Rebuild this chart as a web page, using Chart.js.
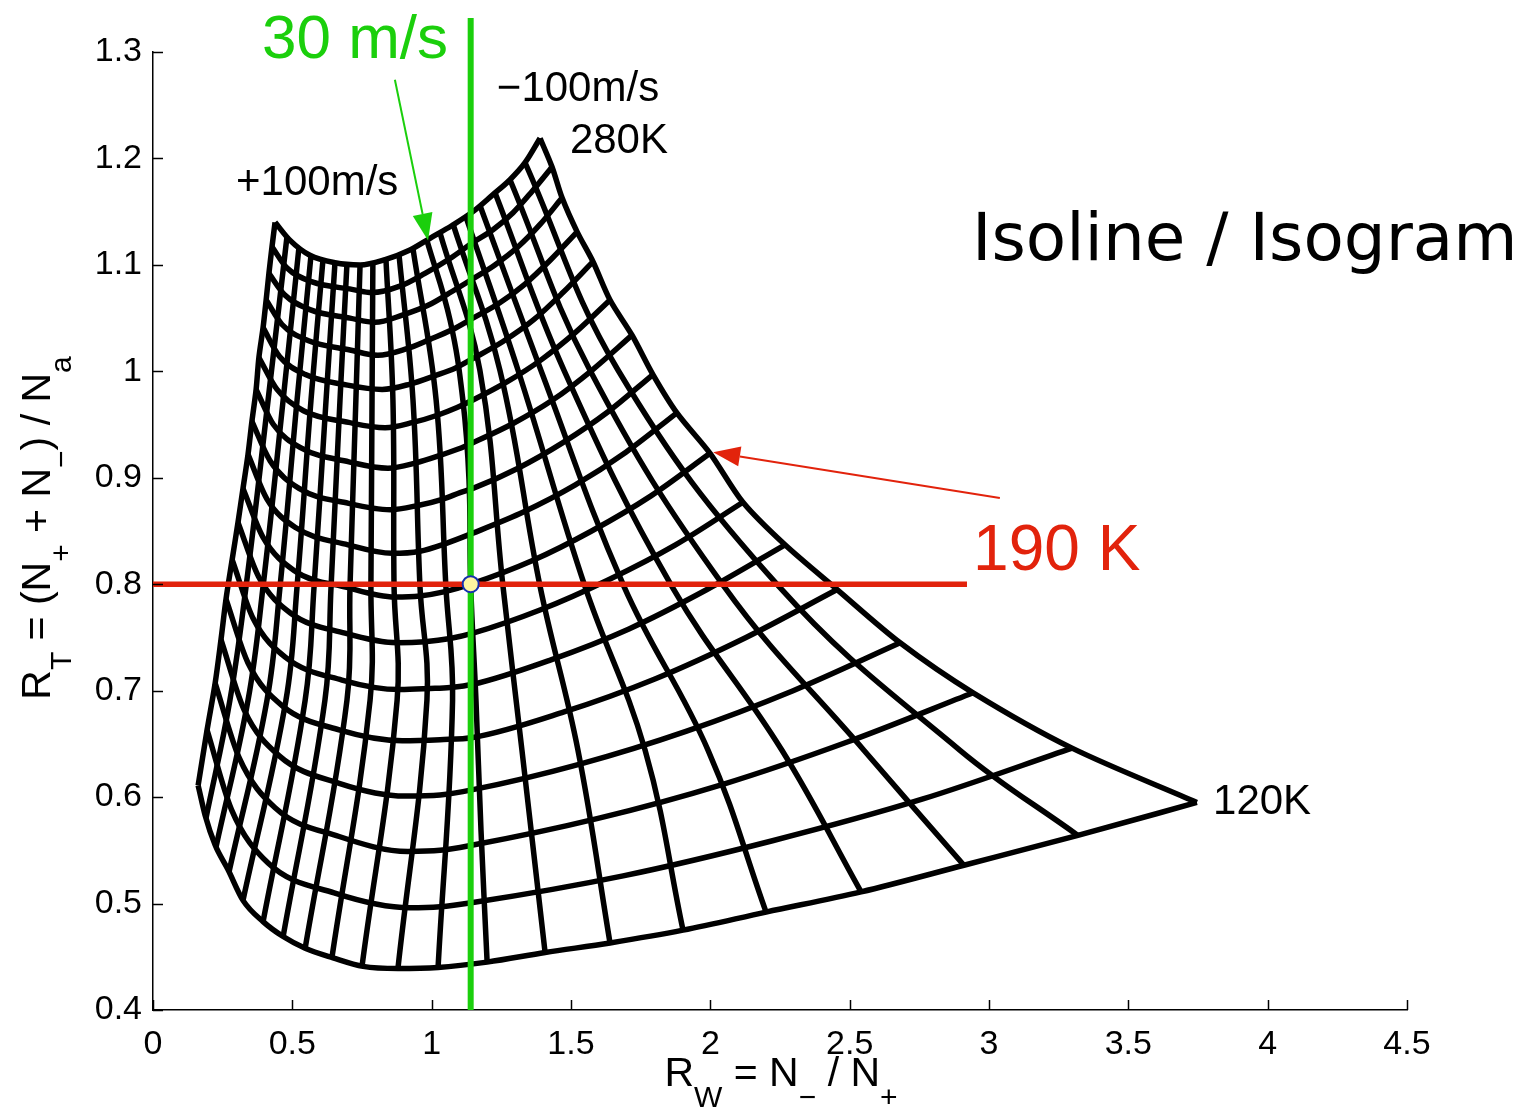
<!DOCTYPE html>
<html>
<head>
<meta charset="utf-8">
<title>Isoline / Isogram</title>
<script src="https://cdn.jsdelivr.net/npm/chart.js"></script>
<style>
  html, body { margin: 0; padding: 0; background: #fff; }
  #wrap { width: 1524px; height: 1115px; }
</style>
</head>
<body>
<div id="wrap"><canvas id="canvas" width="1524" height="1115"></canvas></div>
<script>
// axis ticks
var xTicks = [0, 0.5, 1, 1.5, 2, 2.5, 3, 3.5, 4, 4.5];
var yTicks = [0.4, 0.5, 0.6, 0.7, 0.8, 0.9, 1, 1.1, 1.2, 1.3];

// temperature isolines, points are [R_W, R_T], from +100 m/s side to -100 m/s side
var t280 = [[0.438,1.140],[0.492,1.123],[0.563,1.109],[0.653,1.102],[0.743,1.100],[0.833,1.105],[0.922,1.114],[0.994,1.125],[1.073,1.137],[1.148,1.150],[1.220,1.166],[1.281,1.180],[1.335,1.196],[1.389,1.219]];
var t270 = [[0.427,1.117],[0.481,1.097],[0.571,1.084],[0.714,1.077],[0.786,1.074],[0.886,1.080],[0.976,1.092],[1.066,1.106],[1.148,1.121],[1.220,1.133],[1.292,1.149],[1.360,1.169],[1.432,1.192]];
var t260 = [[0.416,1.092],[0.472,1.072],[0.563,1.058],[0.707,1.050],[0.797,1.046],[0.897,1.053],[0.987,1.062],[1.073,1.075],[1.148,1.087],[1.227,1.100],[1.310,1.117],[1.389,1.138],[1.468,1.163]];
var t250 = [[0.406,1.067],[0.463,1.044],[0.556,1.029],[0.707,1.020],[0.807,1.015],[0.908,1.021],[0.994,1.030],[1.073,1.039],[1.148,1.050],[1.242,1.064],[1.335,1.082],[1.428,1.105],[1.522,1.131]];
var t240 = [[0.395,1.041],[0.454,1.014],[0.547,0.997],[0.698,0.987],[0.822,0.983],[0.922,0.988],[1.012,0.996],[1.084,1.003],[1.148,1.012],[1.256,1.028],[1.364,1.048],[1.471,1.074],[1.579,1.103]];
var t230 = [[0.380,1.013],[0.445,0.983],[0.540,0.963],[0.702,0.952],[0.833,0.947],[0.933,0.952],[1.023,0.959],[1.091,0.966],[1.148,0.973],[1.270,0.990],[1.394,1.011],[1.518,1.037],[1.640,1.067]];
var t220 = [[0.370,0.983],[0.432,0.950],[0.531,0.928],[0.703,0.915],[0.843,0.909],[0.944,0.914],[1.030,0.921],[1.095,0.927],[1.148,0.933],[1.292,0.951],[1.434,0.973],[1.575,1.001],[1.719,1.034]];
var t210 = [[0.355,0.953],[0.420,0.916],[0.524,0.890],[0.702,0.876],[0.851,0.870],[0.951,0.874],[1.041,0.880],[1.102,0.886],[1.148,0.890],[1.310,0.909],[1.471,0.933],[1.633,0.962],[1.794,0.997]];
var t200 = [[0.341,0.922],[0.409,0.880],[0.513,0.853],[0.700,0.837],[0.858,0.829],[0.958,0.831],[1.048,0.838],[1.148,0.848],[1.331,0.868],[1.514,0.893],[1.697,0.924],[1.880,0.961]];
var t190 = [[0.323,0.890],[0.395,0.844],[0.506,0.813],[0.696,0.797],[0.868,0.788],[0.958,0.789],[1.048,0.793],[1.140,0.800],[1.360,0.822],[1.574,0.850],[1.787,0.883],[1.999,0.923]];
var t180 = [[0.305,0.858],[0.379,0.807],[0.493,0.773],[0.689,0.754],[0.879,0.745],[0.976,0.746],[1.066,0.749],[1.148,0.754],[1.391,0.776],[1.633,0.804],[1.875,0.837],[2.117,0.877]];
var t170 = [[0.284,0.823],[0.359,0.768],[0.477,0.731],[0.678,0.710],[0.886,0.701],[0.994,0.702],[1.066,0.703],[1.148,0.706],[1.428,0.729],[1.708,0.758],[1.988,0.795],[2.268,0.837]];
var t160 = [[0.262,0.786],[0.341,0.726],[0.463,0.686],[0.671,0.663],[0.894,0.653],[1.030,0.654],[1.148,0.656],[1.475,0.680],[1.801,0.711],[2.128,0.750],[2.455,0.795]];
var t150 = [[0.244,0.748],[0.327,0.682],[0.452,0.639],[0.668,0.613],[0.904,0.601],[1.030,0.602],[1.148,0.607],[1.532,0.631],[1.915,0.662],[2.297,0.700],[2.681,0.745]];
var t140 = [[0.223,0.707],[0.309,0.637],[0.438,0.590],[0.668,0.563],[0.915,0.549],[1.030,0.550],[1.148,0.555],[1.597,0.580],[2.045,0.612],[2.494,0.652],[2.943,0.698]];
var t130 = [[0.194,0.663],[0.282,0.588],[0.413,0.538],[0.650,0.510],[0.922,0.496],[1.030,0.497],[1.148,0.501],[1.687,0.526],[2.223,0.559],[2.760,0.598],[3.298,0.646]];
var t120 = [[0.162,0.611],[0.187,0.583],[0.223,0.555],[0.269,0.532],[0.323,0.503],[0.395,0.483],[0.467,0.469],[0.546,0.458],[0.646,0.449],[0.754,0.441],[0.879,0.439],[1.023,0.440],[1.199,0.445],[1.407,0.454],[1.640,0.463],[1.902,0.475],[2.200,0.492],[2.541,0.511],[2.910,0.536],[3.319,0.564],[3.746,0.595]];

// wind isolines between the two edges, top (280K) to bottom (120K)
var w01 = [[0.481,1.127],[0.413,0.973],[0.334,0.798],[0.276,0.691],[0.190,0.580]];
var w02 = [[0.524,1.117],[0.467,0.973],[0.395,0.798],[0.341,0.691],[0.226,0.553]];
var w03 = [[0.567,1.109],[0.517,0.973],[0.456,0.798],[0.409,0.691],[0.273,0.530]];
var w04 = [[0.610,1.105],[0.567,0.973],[0.517,0.798],[0.477,0.691],[0.323,0.503]];
var w05 = [[0.653,1.102],[0.621,0.973],[0.578,0.798],[0.546,0.691],[0.395,0.483]];
var w06 = [[0.696,1.101],[0.671,0.973],[0.639,0.798],[0.617,0.691],[0.467,0.469]];
var w07 = [[0.743,1.100],[0.728,0.973],[0.707,0.798],[0.696,0.691],[0.546,0.458]];
var w08 = [[0.789,1.102],[0.786,0.973],[0.782,0.798],[0.779,0.691],[0.642,0.449]];
var w09 = [[0.836,1.105],[0.861,0.973],[0.865,0.798],[0.876,0.691],[0.750,0.441]];
var w10 = [[0.883,1.109],[0.933,0.973],[0.958,0.798],[0.983,0.691],[0.879,0.439]];
var w11 = [[0.933,1.115],[1.016,0.973],[1.051,0.798],[1.075,0.691],[1.023,0.440]];
var w12 = [[0.983,1.123],[1.066,1.048],[1.112,0.973],[1.134,0.898],[1.140,0.800],[1.159,0.691],[1.177,0.569],[1.199,0.445]];
var w13 = [[1.030,1.130],[1.173,1.001],[1.256,0.798],[1.324,0.644],[1.407,0.454]];
var w14 = [[1.077,1.138],[1.245,1.001],[1.389,0.798],[1.525,0.644],[1.640,0.463]];
var w15 = [[1.123,1.145],[1.310,1.001],[1.550,0.798],[1.766,0.644],[1.902,0.475]];
var w16 = [[1.173,1.156],[1.392,1.001],[1.690,0.798],[1.992,0.644],[2.200,0.492]];
var w17 = [[1.227,1.168],[1.475,1.001],[1.862,0.798],[2.257,0.644],[2.541,0.511]];
var w18 = [[1.281,1.180],[1.568,1.001],[2.049,0.798],[2.551,0.644],[2.910,0.536]];
var w19 = [[1.335,1.196],[1.669,1.001],[2.246,0.798],[2.896,0.644],[3.319,0.564]];

// highlighted reading: 30 m/s / 190 K
var windMark = 1.14;
var tempMark = 0.8;
var tempMarkEnd = 2.921;
var windMarkTop = 1.332;

var green = '#1bcf0c';
var red = '#e2230c';

var tempCurves = [t280, t270, t260, t250, t240, t230, t220, t210, t200, t190, t180, t170, t160, t150, t140, t130, t120];
var windCurves = [w01, w02, w03, w04, w05, w06, w07, w08, w09, w10, w11, w12, w13, w14, w15, w16, w17, w18, w19];
// +100 m/s and -100 m/s edges run through the ends of the temperature curves
var leftEdge = tempCurves.map(function (c) { return c[0]; });
var rightEdge = tempCurves.map(function (c) { return c[c.length - 1]; });

// text and arrows, anchored in data units
var notes = [
  { text: '30 m/s', x: 0.391, y: 1.294, size: 62, color: green },
  { text: '\u2212100m/s', x: 1.234, y: 1.254, size: 42, color: '#000' },
  { text: '280K', x: 1.496, y: 1.205, size: 42, color: '#000' },
  { text: '+100m/s', x: 0.298, y: 1.166, size: 42, color: '#000' },
  { text: '120K', x: 3.804, y: 0.584, size: 42, color: '#000' },
  { text: '190 K', x: 2.943, y: 0.813, size: 64, color: red }
];
var arrows = [
  { from: [0.868, 1.274], to: [0.987, 1.123], color: green },
  { from: [3.039, 0.881], to: [2.010, 0.924], color: red }
];

function pts(arr) {
  return arr.map(function (p) { return { x: p[0], y: p[1] }; });
}

var meshWidth = 5.5;
var datasets = [];
datasets.push({ data: [{ x: windMark, y: tempMark }], showLine: false, pointRadius: 8, pointHoverRadius: 8,
  backgroundColor: '#fdf5a0', borderColor: '#1530b0', borderWidth: 2, order: 0 });
datasets.push({ data: [{ x: windMark, y: 0.4 }, { x: windMark, y: windMarkTop }], showLine: true, pointRadius: 0,
  borderColor: green, borderWidth: 6, clip: false, order: 1 });
datasets.push({ data: [{ x: 0, y: tempMark }, { x: tempMarkEnd, y: tempMark }], showLine: true, pointRadius: 0,
  borderColor: red, borderWidth: 5.5, order: 2 });
tempCurves.forEach(function (c) {
  datasets.push({ data: pts(c), showLine: true, pointRadius: 0, borderColor: '#000', borderWidth: meshWidth,
    cubicInterpolationMode: 'monotone', order: 5 });
});
windCurves.forEach(function (c) {
  datasets.push({ data: pts(c), showLine: true, pointRadius: 0, borderColor: '#000', borderWidth: meshWidth,
    tension: 0.4, order: 5 });
});
[leftEdge, rightEdge].forEach(function (c) {
  datasets.push({ data: pts(c), showLine: true, pointRadius: 0, borderColor: '#000', borderWidth: meshWidth,
    tension: 0.3, order: 5 });
});

function richText(ctx, parts, x, y, main, sub, drop) {
  var w = 0;
  parts.forEach(function (p) {
    ctx.font = (p[1] ? sub : main) + "px 'Liberation Sans', Arial, sans-serif";
    w += ctx.measureText(p[0]).width;
  });
  var cx = x - w / 2;
  parts.forEach(function (p) {
    ctx.font = (p[1] ? sub : main) + "px 'Liberation Sans', Arial, sans-serif";
    ctx.fillText(p[0], cx, y + (p[1] ? drop : 0));
    cx += ctx.measureText(p[0]).width;
  });
}

var overlay = {
  id: 'overlay',
  afterDraw: function (chart) {
    var ctx = chart.ctx, xs = chart.scales.x, ys = chart.scales.y, a = chart.chartArea;
    ctx.save();
    // tick marks point into the plot
    ctx.strokeStyle = '#000';
    ctx.lineWidth = 1.5;
    xTicks.forEach(function (v) {
      var px = Math.round(xs.getPixelForValue(v)) + 0.5;
      ctx.beginPath(); ctx.moveTo(px, a.bottom); ctx.lineTo(px, a.bottom - 10); ctx.stroke();
    });
    yTicks.forEach(function (v) {
      var py = Math.round(ys.getPixelForValue(v)) + 0.5;
      ctx.beginPath(); ctx.moveTo(a.left, py); ctx.lineTo(a.left + 10, py); ctx.stroke();
    });

    // axis titles
    ctx.fillStyle = '#000';
    ctx.textBaseline = 'alphabetic';
    ctx.textAlign = 'left';
    richText(ctx, [['R', 0], ['W', 1], [' = N', 0], ['\u2212', 1], [' / N', 0], ['+', 1]],
      781, 1086, 41, 30, 21);
    ctx.save();
    ctx.translate(50, 528);
    ctx.rotate(-Math.PI / 2);
    richText(ctx, [['R', 0], ['T', 1], [' = (N', 0], ['+', 1], [' + N', 0], ['\u2212', 1], [') / N', 0], ['a', 1]],
      0, 0, 41, 30, 21);
    ctx.restore();

    // arrows
    arrows.forEach(function (ar) {
      var x0 = xs.getPixelForValue(ar.from[0]), y0 = ys.getPixelForValue(ar.from[1]);
      var x1 = xs.getPixelForValue(ar.to[0]), y1 = ys.getPixelForValue(ar.to[1]);
      var ang = Math.atan2(y1 - y0, x1 - x0), len = 27, half = 10;
      var bx = x1 - len * Math.cos(ang), by = y1 - len * Math.sin(ang);
      ctx.strokeStyle = ar.color; ctx.fillStyle = ar.color; ctx.lineWidth = 2;
      ctx.beginPath(); ctx.moveTo(x0, y0); ctx.lineTo(bx, by); ctx.stroke();
      ctx.beginPath();
      ctx.moveTo(x1, y1);
      ctx.lineTo(bx + half * Math.sin(ang), by - half * Math.cos(ang));
      ctx.lineTo(bx - half * Math.sin(ang), by + half * Math.cos(ang));
      ctx.closePath(); ctx.fill();
    });

    // labels
    notes.forEach(function (n) {
      ctx.font = n.size + "px 'Liberation Sans', Arial, sans-serif";
      ctx.fillStyle = n.color;
      ctx.fillText(n.text, xs.getPixelForValue(n.x), ys.getPixelForValue(n.y));
    });
    ctx.font = "66px 'DejaVu Sans', sans-serif";
    ctx.fillStyle = '#000';
    ctx.fillText('Isoline / Isogram', xs.getPixelForValue(2.939), ys.getPixelForValue(1.105));
    ctx.restore();
  }
};

Chart.defaults.font.family = "'Liberation Sans', Arial, Helvetica, sans-serif";
Chart.defaults.color = '#000';

window.onload = function () {
  window.isoChart = new Chart(document.getElementById('canvas'), {
    type: 'scatter',
    data: { datasets: datasets },
    options: {
      responsive: false,
      devicePixelRatio: 1,
      animation: false,
      events: [],
      layout: { padding: { top: 52, right: 117, bottom: 0, left: 0 } },
      plugins: { legend: { display: false }, tooltip: { enabled: false } },
      scales: {
        x: {
          type: 'linear', min: 0, max: 4.5,
          afterBuildTicks: function (s) { s.ticks = xTicks.map(function (v) { return { value: v }; }); },
          afterFit: function (s) { s.height = 105; },
          grid: { display: false, drawTicks: false },
          border: { display: true, color: '#000', width: 1.5 },
          ticks: { font: { size: 34 }, padding: 14, maxRotation: 0, autoSkip: false,
            callback: function (v) { return String(v); } }
        },
        y: {
          type: 'linear', min: 0.4, max: 1.3,
          afterBuildTicks: function (s) { s.ticks = yTicks.map(function (v) { return { value: v }; }); },
          afterFit: function (s) { s.width = 153; },
          grid: { display: false, drawTicks: false },
          border: { display: true, color: '#000', width: 1.5 },
          ticks: { font: { size: 34 }, padding: 11, autoSkip: false,
            callback: function (v) { return String(v); } }
        }
      }
    },
    plugins: [overlay]
  });
};
</script>
</body>
</html>
